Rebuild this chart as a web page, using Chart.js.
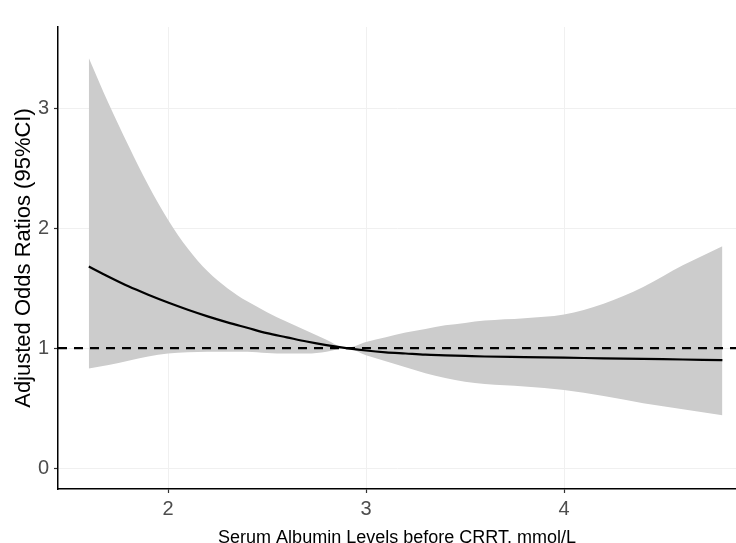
<!DOCTYPE html>
<html>
<head>
<meta charset="utf-8">
<script src="https://cdn.jsdelivr.net/npm/chart.js@4.4.1/dist/chart.umd.min.js"></script>
<style>
  html, body { margin: 0; padding: 0; background: #ffffff; }
  #wrap { width: 736px; height: 543px; }
</style>
</head>
<body>
<div id="wrap"><canvas id="c" width="736" height="543"></canvas></div>
<script>
// ---- data ----
const albumin = [1.6, 1.7, 1.8, 1.9, 2.0, 2.1, 2.2, 2.3, 2.4, 2.5, 2.6, 2.7, 2.8, 2.9,
                 3.0, 3.1, 3.2, 3.3, 3.4, 3.5, 3.6, 3.8, 4.0, 4.2, 4.4, 4.6, 4.8];
const orFit   = [1.68, 1.595, 1.515, 1.445, 1.38, 1.32, 1.265, 1.215, 1.17, 1.125, 1.09, 1.055, 1.025, 1.00,
                 0.98, 0.965, 0.955, 0.945, 0.94, 0.935, 0.93, 0.925, 0.92, 0.915, 0.91, 0.905, 0.90];
const orUpper = [3.42, 3.04, 2.69, 2.36, 2.07, 1.83, 1.64, 1.50, 1.39, 1.30, 1.22, 1.145, 1.07, 1.00,
                 1.05, 1.09, 1.13, 1.16, 1.19, 1.21, 1.23, 1.25, 1.28, 1.37, 1.51, 1.69, 1.85];
const orLower = [0.83, 0.86, 0.895, 0.93, 0.955, 0.965, 0.97, 0.97, 0.97, 0.96, 0.955, 0.955, 0.97, 1.00,
                 0.94, 0.89, 0.84, 0.79, 0.75, 0.72, 0.70, 0.68, 0.65, 0.60, 0.54, 0.49, 0.44];
const referenceOR = 1;
const xTicks = [2, 3, 4];
const yTicks = [0, 1, 2, 3];
const xRange = [1.4444, 4.8687];
const yRange = [-0.175, 3.678];
const xTitle = 'Serum Albumin Levels before CRRT, mmol/L';
const yTitle = 'Adjusted Odds Ratios (95%CI)';

const pts = (ys) => albumin.map((x, i) => ({ x: x, y: ys[i] }));
const tickFont = { family: "'Liberation Sans Narrow', 'Liberation Sans', Arial, sans-serif", size: 20 };
const titleFamily = "'Liberation Sans', Arial, sans-serif";

new Chart(document.getElementById('c'), {
  type: 'line',
  data: {
    datasets: [
      {
        label: 'fit',
        data: pts(orFit),
        borderColor: '#000000',
        borderWidth: 2.2,
        pointRadius: 0,
        fill: false,
        cubicInterpolationMode: 'monotone'
      },
      {
        label: 'reference',
        data: [{ x: xRange[0], y: referenceOR }, { x: xRange[1], y: referenceOR }],
        borderColor: '#000000',
        borderWidth: 2.2,
        borderDash: [9, 7],
        pointRadius: 0,
        fill: false
      },
      {
        label: 'upper',
        data: pts(orUpper),
        borderWidth: 0,
        borderColor: 'rgba(0,0,0,0)',
        backgroundColor: '#cccccc',
        pointRadius: 0,
        fill: '+1',
        cubicInterpolationMode: 'monotone'
      },
      {
        label: 'lower',
        data: pts(orLower),
        borderWidth: 0,
        borderColor: 'rgba(0,0,0,0)',
        pointRadius: 0,
        fill: false,
        cubicInterpolationMode: 'monotone'
      }
    ]
  },
  options: {
    responsive: false,
    animation: false,
    devicePixelRatio: 1,
    layout: { padding: { top: 27, left: 0, right: 0, bottom: 0 } },
    plugins: { legend: { display: false }, tooltip: { enabled: false } },
    scales: {
      x: {
        type: 'linear',
        min: xRange[0],
        max: xRange[1],
        afterBuildTicks: (s) => { s.ticks = xTicks.map(v => ({ value: v })); },
        afterFit: (s) => { s.height = 54; },
        border: { color: '#000000', width: 1.5 },
        grid: { color: '#f0f0f0', lineWidth: 1, tickColor: '#333333', tickLength: 4, tickWidth: 1.2 },
        ticks: { color: '#4d4d4d', font: tickFont, padding: 4, maxRotation: 0, autoSkip: false },
        title: {
          display: true, text: xTitle, color: '#000000',
          font: { family: titleFamily, size: 18, lineHeight: 0.6 },
          padding: { top: 0, bottom: 0 }
        }
      },
      y: {
        type: 'linear',
        min: yRange[0],
        max: yRange[1],
        afterBuildTicks: (s) => { s.ticks = yTicks.map(v => ({ value: v })); },
        afterFit: (s) => { s.width = 58; },
        border: { color: '#000000', width: 1.5 },
        grid: { color: '#f0f0f0', lineWidth: 1, tickColor: '#333333', tickLength: 4, tickWidth: 1.2 },
        ticks: { color: '#4d4d4d', font: tickFont, padding: 5 },
        title: {
          display: true, text: yTitle, color: '#000000',
          font: { family: titleFamily, size: 22, lineHeight: 1.2 },
          padding: { top: 11, bottom: 0 }
        }
      }
    }
  }
});
</script>
</body>
</html>
